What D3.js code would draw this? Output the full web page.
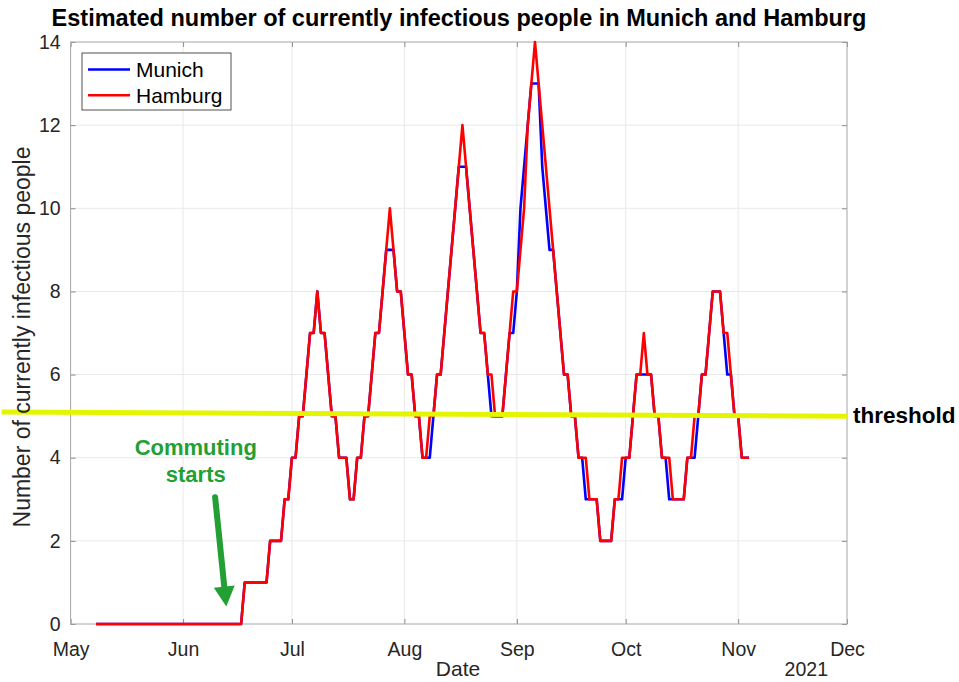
<!DOCTYPE html>
<html>
<head>
<meta charset="utf-8">
<script src="https://cdn.jsdelivr.net/npm/d3@7"></script>
<style>
  body { margin: 0; background: #fff; }
  text { font-family: "Liberation Sans", Arial, Helvetica, sans-serif; }
</style>
</head>
<body>
<div class="chart"></div>
<script>
// daily values, first day is 8 May 2021
const startDate = new Date(2021, 4, 8);

const hamburg = [
  0,0,0,0,0,0,0,0,0,0, 0,0,0,0,0,0,0,0,0,0, 0,0,0,0,0,0,0,0,0,0, 0,0,0,0,0,0,0,0,0,0, 0,
  1,1,1,1,1,1,1, 2,2,2,2, 3,3, 4,4,
  5,5,6,7,7,8,7,7,
  6,5,5,4,4,4,3,3,4,4,
  5,5,6,7,7,8,9,10,9,8,
  8,7,6,6,5,5,4,4,5,5,
  6,6,7,8,9,10,11,12,11,10,
  9,8,7,7,6,6,5,5,5,6,
  7,8,8,9,10,12,13,14,13,12,
  11,10,9,8,7,6,6,5,5,4,
  4,4,3,3,3,2,2,2,2,3,
  3,4,4,4,5,6,6,7,6,6,
  5,5,4,4,4,3,3,3,3,4,
  4,5,5,6,6,7,8,8,8,7,
  7,6,5,5,4,4,4
];

const munich = [
  0,0,0,0,0,0,0,0,0,0, 0,0,0,0,0,0,0,0,0,0, 0,0,0,0,0,0,0,0,0,0, 0,0,0,0,0,0,0,0,0,0, 0,
  1,1,1,1,1,1,1, 2,2,2,2, 3,3, 4,4,
  5,5,6,7,7,8,7,7,
  6,5,5,4,4,4,3,3,4,4,
  5,5,6,7,7,8,9,9,9,8,
  8,7,6,6,5,5,4,4,4,5,
  6,6,7,8,9,10,11,11,11,10,
  9,8,7,7,6,5,5,5,5,6,
  7,7,8,10,11,12,13,13,13,11,
  10,9,9,8,7,6,6,5,5,4,
  4,3,3,3,3,2,2,2,2,3,
  3,3,4,4,5,6,6,6,6,6,
  5,5,4,4,3,3,3,3,3,4,
  4,4,5,6,6,7,8,8,8,7,
  6,6,5,5,4,4,4
];

const seriesNames = ["Munich", "Hamburg"];
const seriesColors = ["#0000ff", "#ff0000"];
const yTicks = [0, 2, 4, 6, 8, 10, 12, 14];
const thresholdDates = [new Date(2021, 3, 12), new Date(2021, 11, 1)];
const thresholdValues = [5.1, 5.0];
const arrowDates = [new Date(2021, 5, 9, 20), new Date(2021, 5, 12, 22)];
const arrowValues = [3.05, 0.42];
const noteDate = new Date(2021, 5, 4, 12);
const noteValues = [4.07, 3.42];

const width = 959, height = 682;
const margin = { left: 70.6, right: 112, top: 42, bottom: 58 };

const svg = d3.select(".chart").append("svg")
  .attr("width", width).attr("height", height);

const x = d3.scaleTime()
  .domain([new Date(2021, 4, 1), new Date(2021, 11, 1)])
  .range([margin.left, width - margin.right]);
const y = d3.scaleLinear()
  .domain([0, 14])
  .range([height - margin.bottom, margin.top]);

const months = d3.timeMonth.range(new Date(2021, 4, 1), new Date(2021, 11, 2));
const x0 = x.range()[0], x1 = x.range()[1], y0 = y.range()[0], y1 = y.range()[1];

// grid
const grid = svg.append("g").attr("stroke", "#e8e8e8").attr("stroke-width", 1);
months.slice(1, -1).forEach(m => {
  grid.append("line").attr("x1", x(m)).attr("x2", x(m)).attr("y1", y0).attr("y2", y1);
});
yTicks.slice(1, -1).forEach(v => {
  grid.append("line").attr("x1", x0).attr("x2", x1).attr("y1", y(v)).attr("y2", y(v));
});

// axes, ticks pointing inwards like matlab
const xAxis = svg.append("g").attr("transform", `translate(0,${y0})`)
  .call(d3.axisBottom(x).tickValues(months).tickFormat(d3.timeFormat("%b")).tickSize(-5).tickPadding(18));
const xAxisTop = svg.append("g").attr("transform", `translate(0,${y1})`)
  .call(d3.axisTop(x).tickValues(months).tickFormat("").tickSize(-5));
const yAxis = svg.append("g").attr("transform", `translate(${x0},0)`)
  .call(d3.axisLeft(y).tickValues(yTicks).tickSize(-5).tickPadding(10));
const yAxisRight = svg.append("g").attr("transform", `translate(${x1},0)`)
  .call(d3.axisRight(y).tickValues(yTicks).tickFormat("").tickSize(-5));

[xAxis, xAxisTop, yAxis, yAxisRight].forEach(a => {
  a.select(".domain").remove();
  a.selectAll("line").attr("stroke", "#8c8c8c");
  a.selectAll("text").attr("fill", "#262626").style("font-size", "19.5px");
});

svg.append("rect")
  .attr("x", x0).attr("y", y1).attr("width", x1 - x0).attr("height", y0 - y1)
  .attr("fill", "none").attr("stroke", "#a6a6a6").attr("stroke-width", 1);

// data lines
const line = d3.line()
  .x((d, i) => x(d3.timeDay.offset(startDate, i)))
  .y(d => y(d));

[munich, hamburg].forEach((s, k) => {
  svg.append("path").datum(s)
    .attr("d", line)
    .attr("fill", "none")
    .attr("stroke", seriesColors[k])
    .attr("stroke-width", 2.6)
    .attr("stroke-linejoin", "round");
});

// threshold
svg.append("line")
  .attr("x1", x(thresholdDates[0])).attr("y1", y(thresholdValues[0]))
  .attr("x2", x(thresholdDates[1])).attr("y2", y(thresholdValues[1]))
  .attr("stroke", "#e4f500").attr("stroke-width", 5);
svg.append("text")
  .attr("x", x1 + 6).attr("y", y(thresholdValues[1]) + 7)
  .style("font-size", "22.5px").style("font-weight", "bold")
  .text("threshold");

// commuting annotation
const green = "#23a033";
const ann = svg.append("g").attr("fill", green).style("font-size", "22px")
  .style("font-weight", "bold").attr("text-anchor", "middle");
ann.append("text").attr("x", x(noteDate)).attr("y", y(noteValues[0])).text("Commuting");
ann.append("text").attr("x", x(noteDate)).attr("y", y(noteValues[1])).text("starts");

const ax0 = x(arrowDates[0]), ay0 = y(arrowValues[0]);
const ax1 = x(arrowDates[1]), ay1 = y(arrowValues[1]);
const ang = Math.atan2(ay1 - ay0, ax1 - ax0);
const headLen = 20, headW = 10.5;
const bx = ax1 - headLen * Math.cos(ang), by = ay1 - headLen * Math.sin(ang);
svg.append("line")
  .attr("x1", ax0).attr("y1", ay0).attr("x2", bx).attr("y2", by)
  .attr("stroke", green).attr("stroke-width", 6).attr("stroke-linecap", "round");
svg.append("path")
  .attr("d", `M${ax1},${ay1} L${bx - headW * Math.sin(ang)},${by + headW * Math.cos(ang)} L${bx + headW * Math.sin(ang)},${by - headW * Math.cos(ang)} Z`)
  .attr("fill", green);

// labels
svg.append("text")
  .attr("x", 459).attr("y", 26)
  .attr("text-anchor", "middle")
  .style("font-size", "23.5px").style("font-weight", "bold")
  .text("Estimated number of currently infectious people in Munich and Hamburg");

svg.append("text")
  .attr("x", 458).attr("y", 676)
  .attr("text-anchor", "middle").attr("fill", "#262626")
  .style("font-size", "21px").text("Date");

svg.append("text")
  .attr("x", 828).attr("y", 676)
  .attr("text-anchor", "end").attr("fill", "#262626")
  .style("font-size", "19.5px").text("2021");

svg.append("text")
  .attr("transform", `translate(30,${(y0 + y1) / 2 + 4}) rotate(-90)`)
  .attr("text-anchor", "middle").attr("fill", "#262626")
  .style("font-size", "23px").text("Number of currently infectious people");

// legend
const legend = svg.append("g").attr("class", "legend");
legend.append("rect")
  .attr("x", 82).attr("y", 53).attr("width", 149).attr("height", 57)
  .attr("fill", "#fff").attr("stroke", "#262626").attr("stroke-width", 0.8);
seriesNames.forEach((name, i) => {
  const ly = 69.5 + i * 25.7;
  legend.append("line").attr("x1", 88).attr("x2", 130).attr("y1", ly).attr("y2", ly)
    .attr("stroke", seriesColors[i]).attr("stroke-width", 2.6);
  legend.append("text").attr("x", 136).attr("y", ly + 7.5)
    .style("font-size", "21px").attr("fill", "#000").text(name);
});
</script>
</body>
</html>
